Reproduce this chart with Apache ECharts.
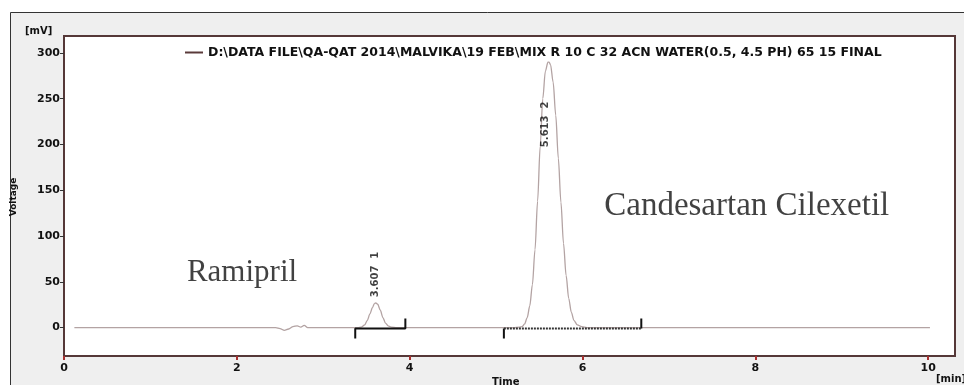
<!DOCTYPE html>
<html>
<head>
<meta charset="utf-8">
<script src="https://cdn.jsdelivr.net/npm/echarts@6/dist/echarts.min.js"></script>
<style>
  html, body { margin: 0; padding: 0; background: #fff; }
  #chart { width: 964px; height: 385px; }
</style>
</head>
<body>
<div id="chart"></div>
<script>
// chromatogram trace, [time min, signal mV]
const trace = [
  [0.12, 0], [1.0, 0], [2.0, 0], [2.45, 0], [2.50, -1], [2.55, -3], [2.60, -1.5],
  [2.65, 1], [2.70, 2], [2.74, 0.5], [2.78, 2.5], [2.82, 0], [3.0, 0], [3.40, 0],
  [3.44, 0.5], [3.48, 3], [3.51, 8], [3.54, 15], [3.57, 22], [3.59, 26], [3.607, 27],
  [3.63, 25.5], [3.66, 19], [3.69, 11], [3.72, 5], [3.75, 2], [3.79, 0.5], [3.85, 0],
  [4.5, 0], [5.20, 0], [5.27, 0.5], [5.30, 1], [5.33, 4], [5.36, 11], [5.39, 24],
  [5.42, 47], [5.45, 85], [5.48, 138], [5.51, 198], [5.54, 250], [5.57, 280],
  [5.60, 290], [5.613, 290], [5.63, 287], [5.66, 268], [5.69, 232], [5.72, 185],
  [5.75, 137], [5.78, 92], [5.81, 57], [5.84, 32], [5.87, 17], [5.90, 8], [5.94, 3],
  [5.99, 1], [6.05, 0], [7.0, 0], [8.0, 0], [9.0, 0], [10.02, 0]
]

// integration markers
const bracket1 = [[3.37, -12], [3.37, -1], [3.95, -1], [3.95, 10]]
const bracket2Ends = [[5.09, -12], [5.09, -1], null, [6.68, -1], [6.68, 10]]
const bracket2Base = [[5.09, -1], [6.68, -1]]

// peak labels
const peakTimes = ['3.607', '5.613']
const peakNos = [1, 2]
const labelX = [3.607, 5.575]
const labelY = [58, 222]

const xTicks = [0, 2, 4, 6, 8, 10]
const yTicks = [0, 50, 100, 150, 200, 250, 300]

const legendName = 'D:\\DATA FILE\\QA-QAT 2014\\MALVIKA\\19 FEB\\MIX R 10 C 32 ACN WATER(0.5, 4.5 PH) 65 15 FINAL'

const axisColor = '#553838'
const boldFont = 'DejaVu Sans, Verdana, sans-serif'
const tickFont = { color: '#111', fontSize: 11, fontWeight: 'bold', fontFamily: boldFont }

const chart = echarts.init(document.getElementById('chart'))

chart.setOption({
  animation: false,
  backgroundColor: '#fff',
  graphic: [
    {
      type: 'rect', z: -10, silent: true,
      shape: { x: 10.5, y: 12.5, width: 960, height: 380 },
      style: { fill: '#efefef', stroke: '#333', lineWidth: 1 }
    },
    {
      type: 'text', left: 25, top: 26,
      style: { text: '[mV]', font: 'bold 10px ' + boldFont, fill: '#111' }
    },
    {
      type: 'text', x: 9, y: 197, rotation: Math.PI / 2,
      style: { text: 'Voltage', font: 'bold 9px ' + boldFont, fill: '#111', align: 'center', verticalAlign: 'top' }
    },
    {
      type: 'text', left: 492, top: 377,
      style: { text: 'Time', font: 'bold 10px ' + boldFont, fill: '#111' }
    },
    {
      type: 'text', left: 936, top: 374,
      style: { text: '[min]', font: 'bold 10px ' + boldFont, fill: '#111' }
    }
  ],
  legend: {
    left: 180,
    top: 41,
    itemWidth: 18,
    itemHeight: 10,
    itemGap: 6,
    data: [{ name: legendName, icon: 'path://M0,4 L18,4 L18,6 L0,6 Z', itemStyle: { color: '#5a3a3a' } }],
    textStyle: { color: '#111', fontSize: 12.5, fontWeight: 'bold', fontFamily: boldFont }
  },
  grid: {
    left: 64, right: 9, top: 36, bottom: 29,
    show: true, backgroundColor: '#fff', borderColor: axisColor, borderWidth: 2
  },
  xAxis: {
    type: 'value',
    min: 0,
    max: 10.31,
    axisLine: { show: true, onZero: false, lineStyle: { color: axisColor, width: 2 } },
    axisTick: { show: true, length: 4, customValues: xTicks, lineStyle: { color: '#a83030', width: 2 } },
    axisLabel: { ...tickFont, margin: 7, customValues: xTicks },
    splitLine: { show: false }
  },
  yAxis: {
    type: 'value',
    min: -31,
    max: 318.5,
    axisLine: { show: true, onZero: false, lineStyle: { color: axisColor, width: 2 } },
    axisTick: { show: true, length: 4, customValues: yTicks, lineStyle: { color: '#333' } },
    axisLabel: { ...tickFont, margin: 4, customValues: yTicks },
    splitLine: { show: false }
  },
  series: [
    {
      name: legendName,
      type: 'line',
      data: trace,
      showSymbol: false,
      smooth: 0.3,
      smoothMonotone: 'x',
      lineStyle: { color: '#b3a3a3', width: 1.3 },
      itemStyle: { color: '#5a3a3a' },
      z: 2
    },
    {
      type: 'line',
      data: bracket1,
      showSymbol: false,
      lineStyle: { color: '#111', width: 2 },
      z: 3
    },
    {
      type: 'line',
      data: bracket2Ends,
      showSymbol: false,
      connectNulls: false,
      lineStyle: { color: '#111', width: 2 },
      z: 3
    },
    {
      type: 'line',
      data: bracket2Base,
      showSymbol: false,
      lineStyle: { color: '#333', width: 2, type: [2, 1] },
      z: 3
    },
    {
      type: 'scatter',
      symbolSize: 0,
      data: labelX.map((x, i) => ({ value: [x, labelY[i]], name: peakTimes[i] + '  ' + peakNos[i] })),
      label: {
        show: true,
        position: 'inside',
        rotate: 90,
        formatter: p => p.name,
        color: '#111',
        fontSize: 10,
        fontWeight: 'bold',
        fontFamily: boldFont
      },
      z: 4
    },
    {
      type: 'scatter',
      symbolSize: 0,
      data: [
        { value: [2.06, 60], name: 'Ramipril', label: { fontSize: 31 } },
        { value: [7.9, 133], name: 'Candesartan Cilexetil', label: { fontSize: 33 } }
      ],
      label: {
        show: true,
        position: 'inside',
        formatter: p => p.name,
        color: '#111',
        fontFamily: 'Liberation Serif, Times New Roman, serif'
      },
      z: 4
    }
  ]
})
</script>
</body>
</html>
